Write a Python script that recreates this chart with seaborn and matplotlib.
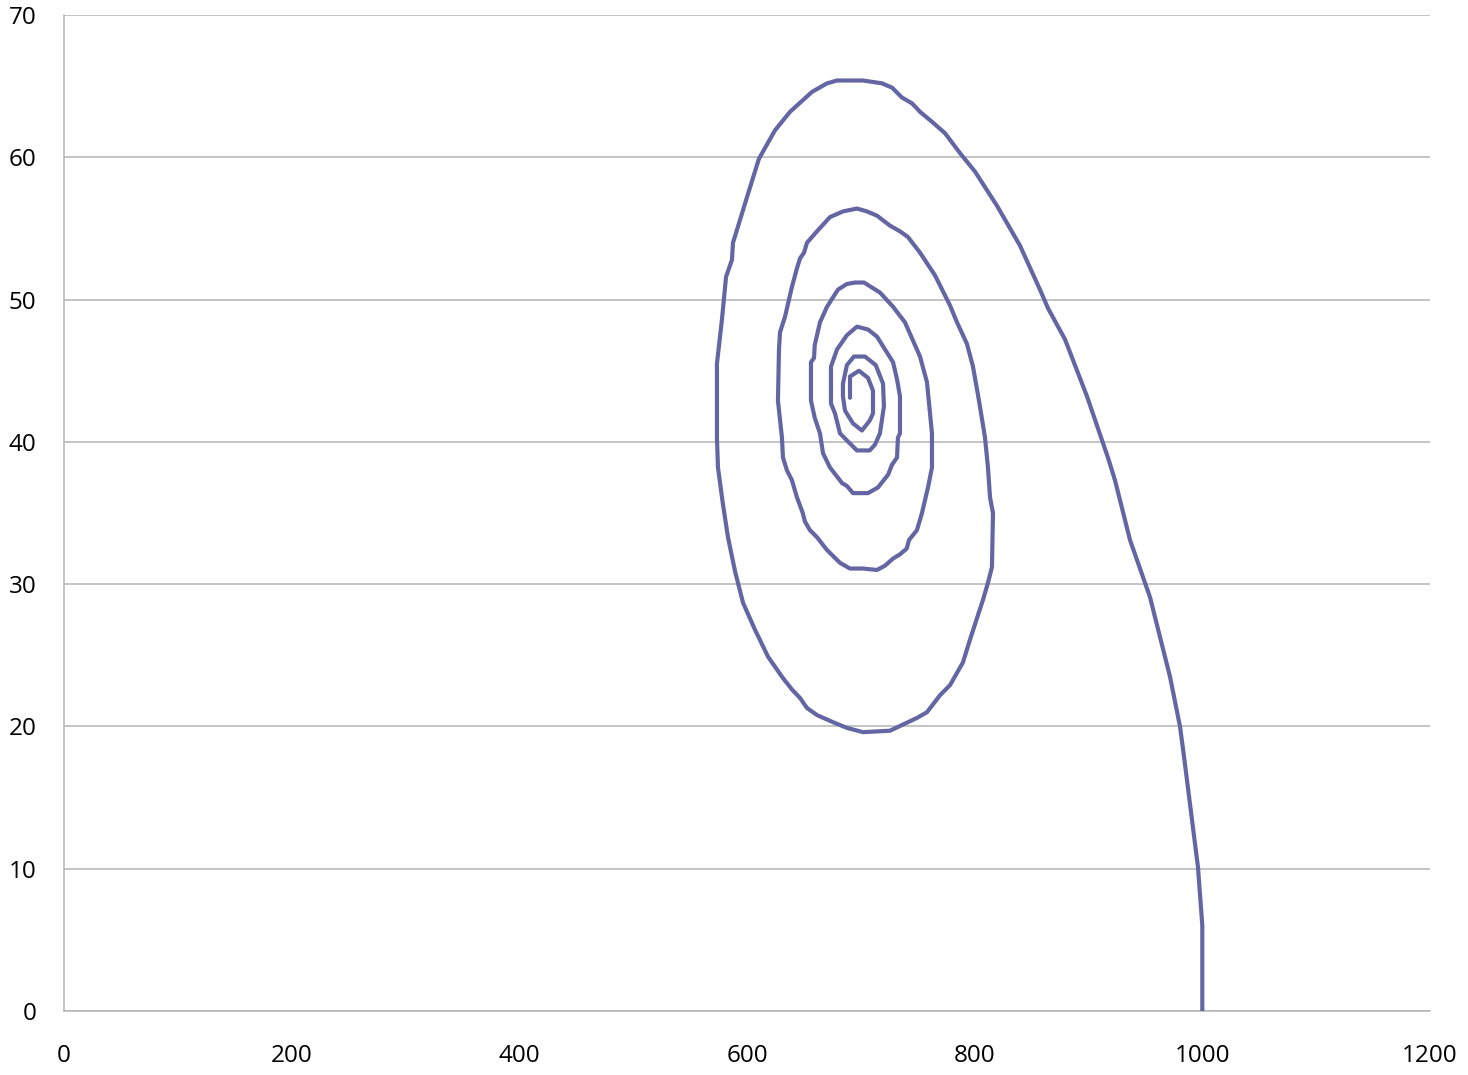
import pandas as pd
import matplotlib
matplotlib.use("Agg")
import matplotlib.pyplot as plt
import seaborn as sns

# phase trajectory (prey on x, predator on y)
prey = [1000, 1000, 996.2, 991.8, 983.9, 980.4, 971.6, 954.0, 936.5, 923.3,
        917.1, 898.7, 879.4, 864.4, 857.4, 839.8, 819.6, 800.3, 787.1, 773.9,
        762.5, 752.0, 744.9, 736.2, 727.4, 718.6, 701.9, 679.1, 670.3, 657.1,
        637.8, 624.6, 610.5, 600.0, 587.7, 586.8, 581.6, 578.0, 573.6, 573.6,
        574.5, 578.9, 583.3, 589.5, 596.5, 607.0, 618.5, 631.6, 639.5, 646.6,
        652.7, 661.5, 675.6, 687.8, 701.9, 725.6, 736.2, 749.3, 758.1, 769.6,
        778.3, 789.7, 795.9, 807.3, 811.7, 815.2, 816.1, 813.5, 811.7, 809.1,
        803.8, 798.5, 793.2, 784.5, 778.3, 773.9, 765.2, 752.0, 741.4, 734.4,
        725.6, 714.2, 705.4, 696.6, 684.3, 672.9, 661.5, 652.7, 650.1, 646.6,
        643.9, 639.5, 633.4, 629.0, 628.1, 627.2, 630.7, 631.6, 635.1, 639.5,
        643.9, 649.0, 650.9, 655.3, 661.5, 670.3, 681.7, 690.5, 701.9, 714.2,
        721.2, 728.3, 734.4, 740.3, 742.3, 749.3, 753.7, 759.0, 762.5, 762.5,
        758.1, 752.0, 744.9, 738.8, 728.3, 716.8, 702.8, 694.9, 687.8, 679.9,
        670.3, 664.1, 659.5, 658.9, 656.2, 656.2, 659.5, 664.1, 666.8, 672.9,
        683.6, 687.8, 693.1, 706.3, 715.1, 724.0, 727.4, 731.8, 732.6, 734.4,
        734.4, 731.8, 728.3, 721.2, 714.2, 706.3, 696.6, 687.8, 679.1, 673.8,
        673.8, 677.3, 681.7, 687.8, 696.6, 707.8, 712.4, 716.8, 720.3, 719.5,
        713.1, 703.6, 694.0, 687.8, 684.3, 684.3, 686.1, 693.1, 701.0, 707.8,
        710.7, 710.7, 706.3, 698.4, 690.5, 690.5]
predator = [0.0, 6.0, 10.1, 12.9, 17.9, 20.0, 23.5, 29.1, 33.1, 37.3,
            38.9, 43.2, 47.2, 49.4, 50.7, 53.8, 56.6, 59.0, 60.3, 61.7,
            62.5, 63.2, 63.8, 64.2, 64.9, 65.2, 65.4, 65.4, 65.2, 64.6,
            63.2, 61.9, 59.9, 57.2, 54.0, 52.8, 51.6, 48.6, 45.5, 40.3,
            38.2, 35.6, 33.3, 30.9, 28.7, 26.8, 24.9, 23.4, 22.6, 22.0,
            21.3, 20.8, 20.3, 19.9, 19.6, 19.7, 20.1, 20.6, 21.0, 22.2,
            22.9, 24.5, 26.1, 28.9, 30.1, 31.2, 35.0, 36.1, 38.2, 40.3,
            42.9, 45.3, 46.9, 48.4, 49.6, 50.3, 51.7, 53.3, 54.4, 54.8,
            55.2, 55.9, 56.2, 56.4, 56.2, 55.8, 54.8, 54.0, 53.3, 52.9,
            52.2, 50.9, 48.8, 47.7, 46.5, 42.9, 40.3, 38.9, 38.0, 37.3,
            36.1, 35.0, 34.4, 33.8, 33.3, 32.4, 31.5, 31.1, 31.1, 31.0,
            31.3, 31.8, 32.1, 32.5, 33.1, 33.8, 35.0, 36.8, 38.2, 40.6,
            44.2, 46.0, 47.3, 48.4, 49.5, 50.5, 51.2, 51.2, 51.1, 50.7,
            49.5, 48.4, 46.8, 45.9, 45.6, 42.9, 41.7, 40.6, 39.2, 38.2,
            37.1, 36.9, 36.4, 36.4, 36.8, 37.7, 38.4, 38.9, 40.3, 40.6,
            43.2, 44.4, 45.6, 46.5, 47.4, 47.9, 48.1, 47.5, 46.5, 45.3,
            42.7, 42.0, 40.6, 40.1, 39.4, 39.4, 39.8, 40.6, 42.5, 44.1,
            45.4, 46.0, 46.0, 45.4, 44.1, 43.2, 42.2, 41.3, 40.8, 41.5,
            42.0, 43.6, 44.5, 45.0, 44.6, 43.1]

df = pd.DataFrame({"prey": prey, "predator": predator})

sns.set_style("white")
plt.rcParams["font.family"] = ["Open Sans", "DejaVu Sans"]

fig = plt.figure(figsize=(14.68, 10.75), dpi=100)
ax = fig.add_axes([0.0436, 0.0595, 0.9305, 0.9265])

sns.lineplot(data=df, x="prey", y="predator", sort=False, estimator=None,
             color="#6466A3", linewidth=3.0, ax=ax, zorder=3)

ax.set_xlim(0, 1200)
ax.set_ylim(0, 70)
ax.set_xticks(range(0, 1201, 200))
ax.set_yticks(range(0, 71, 10))
ax.yaxis.grid(True, color="#B4B4B4", linewidth=1.1)
ax.set_axisbelow(True)
ax.set_xlabel("")
ax.set_ylabel("")

for s in ["top", "right"]:
    ax.spines[s].set_visible(False)
for s in ["left", "bottom"]:
    ax.spines[s].set_color("#B4B4B4")
    ax.spines[s].set_linewidth(1.1)

ax.tick_params(axis="x", direction="out", length=8, width=1, color="#B4B4B4",
               labelsize=17.5, pad=16, labelcolor="black")
ax.tick_params(axis="y", direction="out", length=8, width=1, color="#B4B4B4",
               labelsize=17.5, pad=12, labelcolor="black")

fig.savefig("out.png", dpi=100)
